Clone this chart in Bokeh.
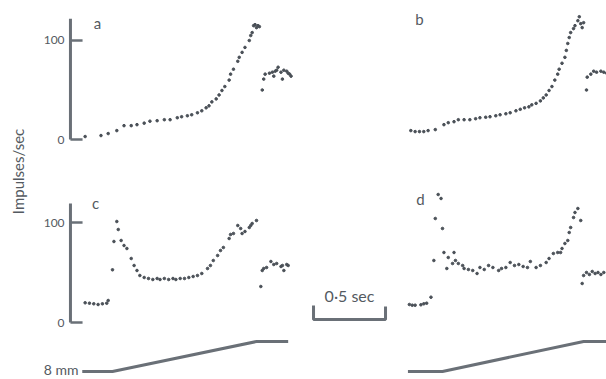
from bokeh.plotting import figure
from bokeh.models import Range1d, Label
from bokeh.embed import file_html
from bokeh.resources import INLINE

# Instantaneous discharge frequency (impulses/sec) against time (sec)
# measured from the start of the 8 mm stretch ramp.

# a: slow ramp, first trial
a_t = [-0.19, -0.08, -0.03, 0.03, 0.08, 0.13, 0.17, 0.22, 0.26, 0.31, 0.36, 0.40,
       0.45, 0.48, 0.52, 0.55, 0.59, 0.62, 0.65, 0.67, 0.69, 0.72, 0.74, 0.76,
       0.78, 0.81, 0.82, 0.84, 0.87, 0.88, 0.90, 0.92, 0.95, 0.96, 0.97, 0.98,
       0.99, 1.00, 1.01, 1.02,
       1.04, 1.05, 1.06, 1.09, 1.11, 1.12, 1.13, 1.14, 1.15, 1.17, 1.18, 1.19,
       1.21, 1.22, 1.23, 1.24]
a_rate = [3, 4, 6, 9, 14, 14, 15, 16.5, 18.5, 19, 20, 20,
          22, 23, 24, 25, 27, 29, 32, 34, 38, 41, 45, 49.5,
          53.5, 60, 66, 71, 79, 83, 88, 93, 100, 105, 108, 115,
          116, 113, 115, 114,
          50, 61, 66, 67, 68, 64, 69, 70, 73, 68, 61, 70,
          69, 67, 66, 64]

# b: slow ramp, repeated
b_t = [-0.22, -0.19, -0.16, -0.13, -0.10, -0.05, 0.01, 0.04, 0.08, 0.11, 0.15, 0.19,
       0.23, 0.26, 0.30, 0.33, 0.37, 0.40, 0.44, 0.47, 0.51, 0.54, 0.57, 0.60,
       0.62, 0.65, 0.68, 0.70, 0.72, 0.74, 0.76, 0.78, 0.80, 0.81, 0.83, 0.85,
       0.86, 0.87, 0.88, 0.89, 0.91, 0.92, 0.94, 0.95, 0.96, 0.97, 0.98,
       1.00, 1.005, 1.03, 1.05, 1.07, 1.10, 1.12, 1.14]
b_rate = [9, 8, 8, 8, 9, 10, 15, 17, 18, 20, 20, 20,
          21, 22, 22.5, 23, 24, 25, 26, 27, 29, 30.5, 32, 33,
          35, 36.5, 39, 42, 45, 49.5, 53.5, 60, 66, 71, 77, 83,
          90, 97, 103, 108, 112, 115, 120, 124, 117, 113, 118,
          50, 63, 66, 69, 68, 69, 68, 67]

# c: ramp preceded by a brief tap
c_t = [-0.19, -0.16, -0.13, -0.10, -0.07, -0.04, -0.03, 0.00, 0.01, 0.03, 0.04, 0.06,
       0.08, 0.10, 0.13, 0.15, 0.17, 0.19, 0.22, 0.25, 0.28, 0.31, 0.33, 0.36,
       0.39, 0.42, 0.44, 0.47, 0.50, 0.53, 0.56, 0.59, 0.62, 0.66, 0.68, 0.70,
       0.73, 0.75, 0.77, 0.81, 0.82, 0.84, 0.87, 0.89, 0.90, 0.92, 0.95, 0.96,
       0.97, 1.00,
       1.03, 1.04, 1.05, 1.07, 1.10, 1.12, 1.14, 1.17, 1.18, 1.19, 1.21, 1.22]
c_rate = [19.7, 19.3, 18.7, 18, 18.7, 19.3, 22, 52.7, 81, 101, 93, 82,
          77, 74, 64, 57, 52, 47, 45, 44, 43, 44, 43, 44,
          43, 44, 43, 44, 44, 45, 46, 47, 49, 54, 57, 62,
          67, 72, 75, 84, 88, 89, 97, 94, 89, 91, 95, 97,
          99, 102,
          36, 52, 54, 55, 61, 58, 59, 56, 57, 52, 58, 57]

# d: ramp preceded by a stronger tap
d_t = [-0.23, -0.21, -0.19, -0.15, -0.13, -0.11, -0.08, -0.06, -0.05, -0.03, -0.01, 0.00,
       0.01, 0.03, 0.04, 0.07, 0.08, 0.09, 0.11, 0.14, 0.15, 0.18, 0.21, 0.24,
       0.26, 0.29, 0.32, 0.35, 0.39, 0.41, 0.44, 0.47, 0.50, 0.53, 0.56, 0.59,
       0.61, 0.65, 0.68, 0.72, 0.74, 0.77, 0.80, 0.82, 0.83, 0.85, 0.87, 0.88,
       0.89, 0.91, 0.92, 0.94, 0.96,
       0.97, 0.98, 1.00, 1.02, 1.04, 1.06, 1.08, 1.10, 1.12]
d_rate = [18, 17.3, 17.3, 17.7, 18.7, 19.3, 25.3, 62, 104, 128, 124, 94,
          70, 54, 65, 59, 70, 62, 59, 57, 54, 53, 52, 49,
          55, 53, 57, 55, 52, 54, 55, 60, 57, 58, 56, 55,
          61, 55, 57, 60, 64, 69, 70, 70, 74, 79, 82, 90,
          95, 105, 110, 114, 102,
          39, 47, 50, 48, 51, 49, 50, 48, 50]

# stretch applied (mm) under the left and right columns
stim_left_t = [-0.21, 0.0, 1.0, 1.22]
stim_right_t = [-0.24, 0.0, 0.98, 1.20]
stim_mm = [0, 0, 8, 8]

rate_ticks = [0, 100]
tick_labels = ["0", "100"]

DOT = "#4a5057"
INK = "#6a7077"
TXT = "#545a61"
FONT = "Lato"

p = figure(width=606, height=379, output_backend="svg", toolbar_location=None,
           x_range=Range1d(-0.7778, 3.4306), y_range=Range1d(-242.4, 140.4),
           x_axis_type=None, y_axis_type=None, min_border=0)
p.outline_line_color = None
p.background_fill_color = "white"
p.border_fill_color = "white"
p.grid.visible = False
p.extra_x_ranges = {"right": Range1d(-3.0694, 1.1389)}
p.extra_y_ranges = {"lower": Range1d(-57, 322), "stim": Range1d(-2.133, 98.93)}

# spike-frequency dots
DOT_SIZE = 2.6
p.scatter(a_t, a_rate, size=DOT_SIZE, color=DOT)
p.scatter(b_t, b_rate, size=DOT_SIZE, color=DOT, x_range_name="right")
p.scatter(c_t, c_rate, size=DOT_SIZE, color=DOT, y_range_name="lower")
p.scatter(d_t, d_rate, size=DOT_SIZE, color=DOT, x_range_name="right", y_range_name="lower")

# ordinate for the left-hand panels
AX_T = -0.292
TICK_END = -0.208
for yr, top in ((None, 122), ("lower", 119)):
    kw = {"y_range_name": yr} if yr else {}
    p.line([AX_T, AX_T], [0, top], line_color=INK, line_width=3, **kw)
    for tk, lab in zip(rate_ticks, tick_labels):
        p.line([AX_T, TICK_END], [tk, tk], line_color=INK, line_width=2.5, **kw)
        p.add_layout(Label(x=-0.333, y=tk, text=lab, text_align="right",
                           text_baseline="middle", text_font=FONT,
                           text_font_size="12px", text_color=TXT, **kw))

# panel letters
for lab, x, y, xr, yr in (("a", -0.104, 118, "default", "default"),
                          ("b", -0.160, 122, "right", "default"),
                          ("c", -0.118, 120, "default", "lower"),
                          ("d", -0.153, 124, "right", "lower")):
    p.add_layout(Label(x=x, y=y, text=lab, text_align="center", text_baseline="middle",
                       text_font=FONT, text_font_size="15px", text_color=TXT,
                       x_range_name=xr, y_range_name=yr))

p.add_layout(Label(x=-0.653, y=-32.3, text="Impulses/sec", angle=90, angle_units="deg",
                   text_align="center", text_baseline="middle", text_font=FONT,
                   text_font_size="15px", text_color=TXT))

# 0.5 sec time calibration
SB0, SB_LEN = 1.396, 0.5
p.line([SB0, SB0, SB0 + SB_LEN, SB0 + SB_LEN], [17, 3, 3, 16],
       line_color=INK, line_width=3, y_range_name="lower")
p.add_layout(Label(x=SB0 + SB_LEN / 2, y=27, text="0·5 sec", text_align="center",
                   text_baseline="middle", text_font=FONT, text_font_size="16px",
                   text_color=TXT, y_range_name="lower"))

# stretch records
p.line(stim_left_t, stim_mm, line_color=INK, line_width=3, y_range_name="stim")
p.line(stim_right_t, stim_mm, line_color=INK, line_width=3,
       x_range_name="right", y_range_name="stim")
p.add_layout(Label(x=-0.236, y=0.5, text="8 mm", text_align="right", text_baseline="middle",
                   text_font=FONT, text_font_size="14px", text_color=TXT,
                   y_range_name="stim"))

open("out.html", "w").write(file_html(p, INLINE))
